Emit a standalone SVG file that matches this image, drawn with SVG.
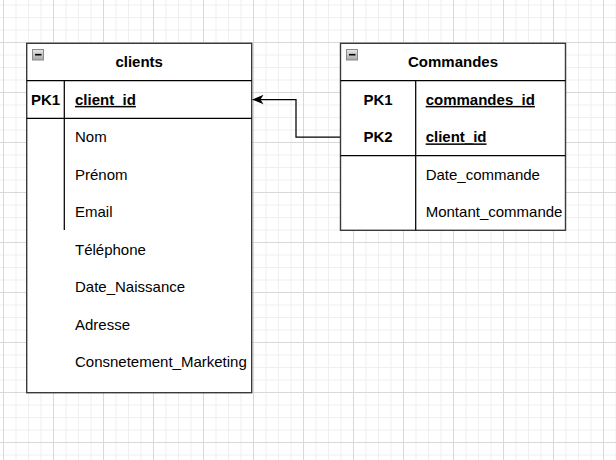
<svg xmlns="http://www.w3.org/2000/svg" width="616" height="460" viewBox="0 0 616 460">
  <defs>
    <pattern id="grid" patternUnits="userSpaceOnUse" x="3" y="42" width="50" height="50">
      <path d="M13,0 V50 M25.5,0 V50 M38,0 V50 M0,13 H50 M0,25.5 H50 M0,38 H50" fill="none" stroke="#efefef" stroke-width="1"/>
      <path d="M0.5,0 V50 M0,0.5 H50" fill="none" stroke="#d8d8d8" stroke-width="1"/>
    </pattern>
    <linearGradient id="btn" x1="0" y1="0" x2="0" y2="1">
      <stop offset="0" stop-color="#e8e8e8"/>
      <stop offset="1" stop-color="#a8a8a8"/>
    </linearGradient>
    <marker id="arr" markerUnits="userSpaceOnUse" markerWidth="12" markerHeight="10" viewBox="0 0 12 10" refX="11.5" refY="5" orient="auto">
      <path d="M0.5,0.3 L11.5,5 L0.5,9.7 L3.5,5 Z" fill="#000"/>
    </marker>
    <style>
      .box { fill: #fff; stroke: #3a3a3a; stroke-width: 1.4; }
      .ln { stroke: #000; stroke-width: 1.25; fill: none; }
      .t { font-family: "Liberation Sans", Arial, sans-serif; font-size: 15px; fill: #000; }
      .b { font-weight: bold; }
      .u { text-decoration: underline; }
      .c { text-anchor: middle; }
      .btn { fill: url(#btn); stroke: #8a8a8a; stroke-width: 1; }
      .minus { stroke: #000; stroke-width: 1.6; }
    </style>
  </defs>
  <rect width="616" height="460" fill="#fff"/>
  <rect width="616" height="460" fill="url(#grid)"/>

  <g id="connectors">
    <path class="ln" d="M340.5,137 H296 V99.5 H252.5" marker-end="url(#arr)"/>
  </g>

  <g id="clients">
    <rect class="box" x="26.7" y="43.3" width="225" height="349.4"/>
    <line class="ln" x1="26.7" y1="80.7" x2="251.7" y2="80.7"/>
    <line class="ln" x1="26.7" y1="118.3" x2="251.7" y2="118.3"/>
    <line class="ln" x1="64.3" y1="80.7" x2="64.3" y2="230"/>
    <rect class="btn" x="32.5" y="49.5" width="11" height="10.5"/>
    <line class="minus" x1="35" y1="54.7" x2="41.5" y2="54.7"/>
    <text class="t b c" x="139.2" y="67.4">clients</text>
    <text class="t b c" x="45.5" y="104.9">PK1</text>
    <text class="t b u" x="75" y="104.9">client_id</text>
    <text class="t" x="75" y="142.4">Nom</text>
    <text class="t" x="75" y="179.9">Prénom</text>
    <text class="t" x="75" y="217.4">Email</text>
    <text class="t" x="75" y="254.9">Téléphone</text>
    <text class="t" x="75" y="292.4">Date_Naissance</text>
    <text class="t" x="75" y="329.9">Adresse</text>
    <text class="t" x="75" y="367.4">Consnetement_Marketing</text>
  </g>

  <g id="commandes">
    <rect class="box" x="340.5" y="43.3" width="225" height="187"/>
    <line class="ln" x1="340.5" y1="80.7" x2="565.5" y2="80.7"/>
    <line class="ln" x1="340.5" y1="155.7" x2="565.5" y2="155.7"/>
    <line class="ln" x1="415.7" y1="80.7" x2="415.7" y2="230.3"/>
    <rect class="btn" x="346.5" y="49.5" width="11" height="10.5"/>
    <line class="minus" x1="349" y1="54.7" x2="355.5" y2="54.7"/>
    <text class="t b c" x="453" y="67.4">Commandes</text>
    <text class="t b c" x="378" y="104.9">PK1</text>
    <text class="t b c" x="378" y="142.4">PK2</text>
    <text class="t b u" x="425.7" y="104.9">commandes_id</text>
    <text class="t b u" x="425.7" y="142.4">client_id</text>
    <text class="t" x="425.7" y="179.9">Date_commande</text>
    <text class="t" x="425.7" y="217.4">Montant_commande</text>
  </g>
</svg>
